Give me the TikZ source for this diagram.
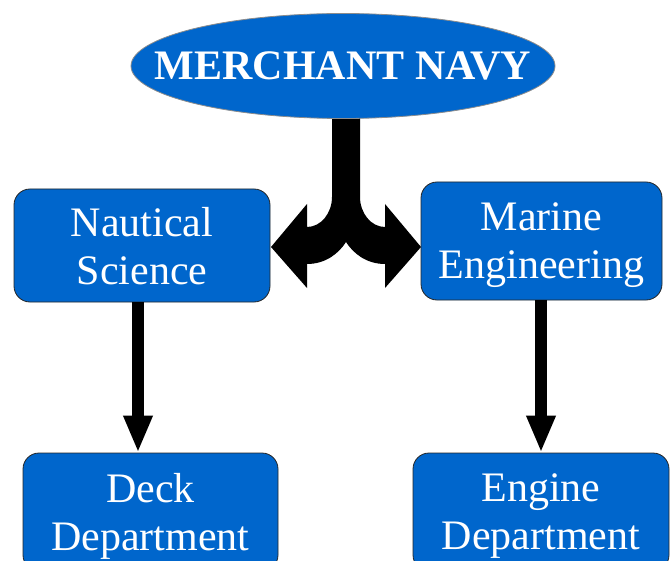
\documentclass[tikz,border=0pt]{standalone}
\usepackage{fontspec}
\setmainfont{Liberation Serif}
\usetikzlibrary{shapes.geometric,arrows.meta}
\definecolor{navblue}{RGB}{0,102,204}
\tikzset{
  ell/.style={ellipse, fill=navblue, draw=black!45, line width=0.8pt, inner sep=0pt,
    minimum width=424pt, minimum height=105pt, text=white,
    font=\fontsize{42}{48}\selectfont\bfseries},
  boxnode/.style={rectangle, rounded corners=16pt, fill=navblue, draw=black!85, line width=0.8pt,
    text=white, align=center, inner sep=0pt, text depth=0pt, font=\fontsize{42}{48}\selectfont},
  darrow/.style={line width=12pt, -{Triangle[width=27pt,length=37pt]}},
}
\begin{document}
\begin{tikzpicture}[x=1pt,y=-1pt]
\useasboundingbox (0,0) rectangle (671,561);
% split arrow under the ellipse
\fill[black] (332,110) -- (332,197) .. controls (332,213) and (321,227) .. (307,227)
  -- (307,204) -- (271,247) -- (307,288) -- (307,264)
  .. controls (326,264) and (339,253) .. (346,242)
  .. controls (353,253) and (366,264) .. (385,264)
  -- (385,288) -- (421,247) -- (385,204) -- (385,227)
  .. controls (371,227) and (360,213) .. (360,197) -- (360,110) -- cycle;
\node[ell] (mn) at (343,66) {\makebox[0pt]{MERCHANT NAVY}};
\node[boxnode, minimum width=256pt, minimum height=113pt] (ns) at (142,245.5) {Nautical\\Science};
\node[boxnode, minimum width=241pt, minimum height=118pt] (me) at (541.5,241) {Marine\\Engineering};
\node[boxnode, minimum width=255pt, minimum height=118pt] (deck) at (150.5,512) {Deck\\Department};
\node[boxnode, minimum width=256pt, minimum height=118pt] (eng) at (541,512) {Engine\\Department};
\coordinate (lx) at (138,0);
\coordinate (rx) at (541,0);
\draw[darrow] (ns.south -| lx) -- (deck.north -| lx);
\draw[darrow] (me.south -| rx) -- (eng.north -| rx);
\end{tikzpicture}
\end{document}
